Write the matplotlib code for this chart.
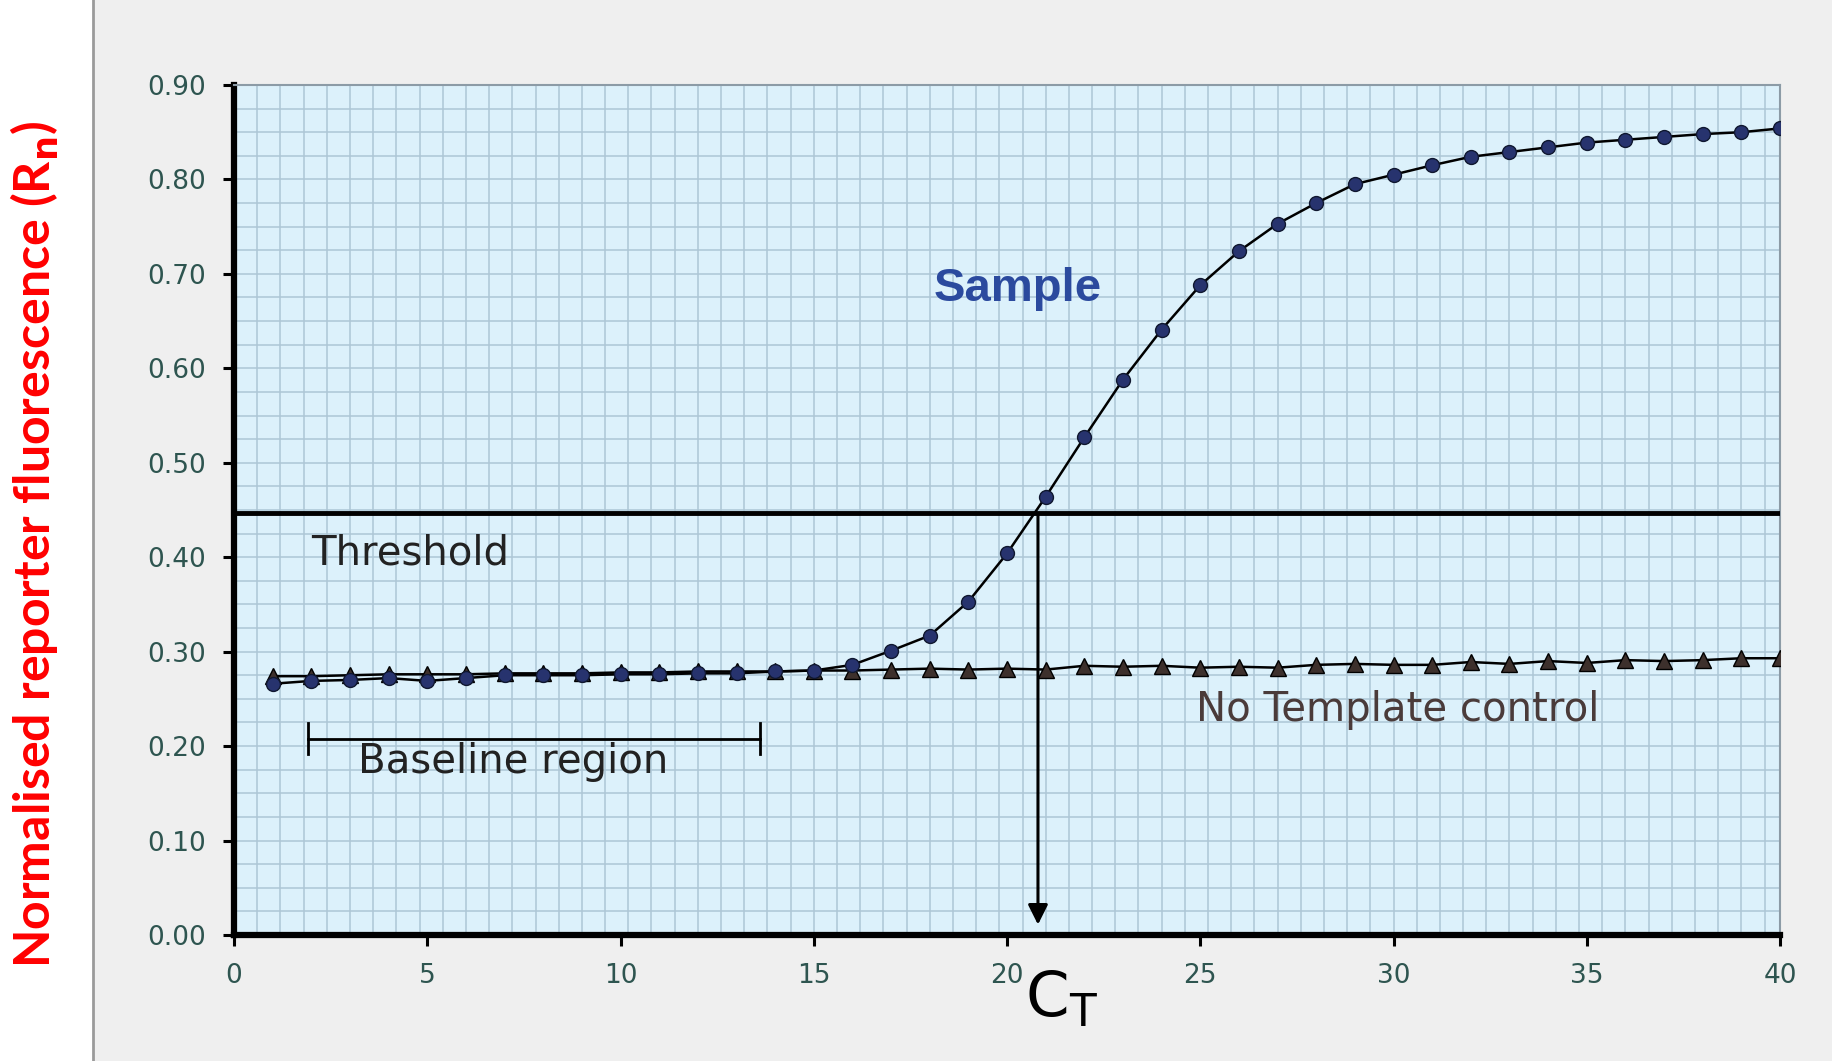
import numpy as np
import matplotlib.pyplot as plt
from matplotlib.ticker import MultipleLocator, FormatStrFormatter
from matplotlib.patches import Rectangle

# cycle numbers and normalised reporter fluorescence
cycles = list(range(1, 41))
sample = [0.266, 0.269, 0.270, 0.272, 0.269, 0.272, 0.275, 0.275, 0.275, 0.276,
          0.276, 0.277, 0.277, 0.279, 0.280, 0.286, 0.301, 0.317, 0.353, 0.404,
          0.464, 0.527, 0.588, 0.641, 0.688, 0.724, 0.753, 0.775, 0.795, 0.805,
          0.815, 0.824, 0.829, 0.834, 0.839, 0.842, 0.845, 0.848, 0.850, 0.854]
ntc = [0.274, 0.274, 0.275, 0.276, 0.276, 0.276, 0.277, 0.277, 0.277, 0.278,
       0.278, 0.279, 0.279, 0.279, 0.280, 0.280, 0.281, 0.282, 0.281, 0.282,
       0.281, 0.285, 0.284, 0.285, 0.283, 0.284, 0.283, 0.286, 0.287, 0.286,
       0.286, 0.289, 0.287, 0.290, 0.288, 0.291, 0.290, 0.291, 0.293, 0.293]
threshold = 0.447
ct = 20.8
baseline = (1.9, 13.6)
xticks = list(range(0, 41, 5))
yticks = [round(0.1 * i, 1) for i in range(10)]

fig = plt.figure(figsize=(18.33, 10.61), dpi=100, facecolor='#efefef')
fig.patches.append(Rectangle((0, 0), 0.0507, 1, transform=fig.transFigure,
                             facecolor='white', edgecolor='none', zorder=0))
fig.lines.append(plt.Line2D([0.0507, 0.0507], [0, 1], transform=fig.transFigure,
                            color='#9a9a9a', lw=2))

ax = fig.add_axes([0.1277, 0.1188, 0.8434, 0.8011])
ax.set_facecolor('#dcf1fb')
ax.set_xlim(0, 40)
ax.set_ylim(0, 0.9)

# graph-paper grid
ax.xaxis.set_minor_locator(MultipleLocator(0.6))
ax.yaxis.set_minor_locator(MultipleLocator(0.025))
ax.xaxis.remove_overlapping_locs = False
ax.yaxis.remove_overlapping_locs = False
ax.grid(which='minor', color='#adc6d6', lw=1.1)
ax.grid(which='major', visible=False)
ax.tick_params(which='minor', length=0)
ax.set_axisbelow(True)

ax.set_xticks(xticks)
ax.set_yticks(yticks)
ax.yaxis.set_major_formatter(FormatStrFormatter('%.2f'))
ax.tick_params(which='major', direction='out', length=8, width=2.2, color='black',
               labelsize=19, labelcolor='#2e5550', pad=12)

for s in ['left', 'bottom']:
    ax.spines[s].set_linewidth(4.5)
    ax.spines[s].set_color('black')
for s in ['top', 'right']:
    ax.spines[s].set_linewidth(1.5)
    ax.spines[s].set_color('#8c9ba6')

ax.plot(cycles, ntc, color='black', lw=1.8, marker='^', markersize=11,
        markerfacecolor='#3d302c', markeredgecolor='black', zorder=3)
ax.plot(cycles, sample, color='black', lw=1.8, marker='o', markersize=10,
        markerfacecolor='#27336e', markeredgecolor='#101830', zorder=4)

ax.axhline(threshold, color='black', lw=3.5, zorder=5)
ax.annotate('', xy=(ct, 0.008), xytext=(ct, threshold),
            arrowprops=dict(arrowstyle='-|>', lw=2.2, color='black', mutation_scale=30),
            zorder=5)

# baseline bracket
ax.plot(baseline, [0.208, 0.208], color='black', lw=2, zorder=5)
for bx in baseline:
    ax.plot([bx, bx], [0.192, 0.224], color='black', lw=2, zorder=5)

ax.text(18.1, 0.684, 'Sample', fontsize=34, fontweight='bold', color='#2b4a9e',
        family='Liberation Sans', va='center')
ax.text(2.0, 0.404, 'Threshold', fontsize=29, color='#222222', va='center')
ax.text(3.2, 0.183, 'Baseline region', fontsize=29, color='#222222', va='center')
ax.text(24.9, 0.238, 'No Template control', fontsize=29, color='#4a3b3a', va='center')
ax.text(21.4, -0.068, r'C$_\mathrm{T}$', fontsize=45, color='black',
        ha='center', va='center', clip_on=False)

fig.text(0.019, 0.487, r'Normalised reporter fluorescence (R$_\mathbf{n}$)',
         rotation=90, fontsize=36, fontweight='bold', color='#ff0000',
         family='Lato', ha='center', va='center')

fig.savefig('out.png', dpi=100, facecolor=fig.get_facecolor())
